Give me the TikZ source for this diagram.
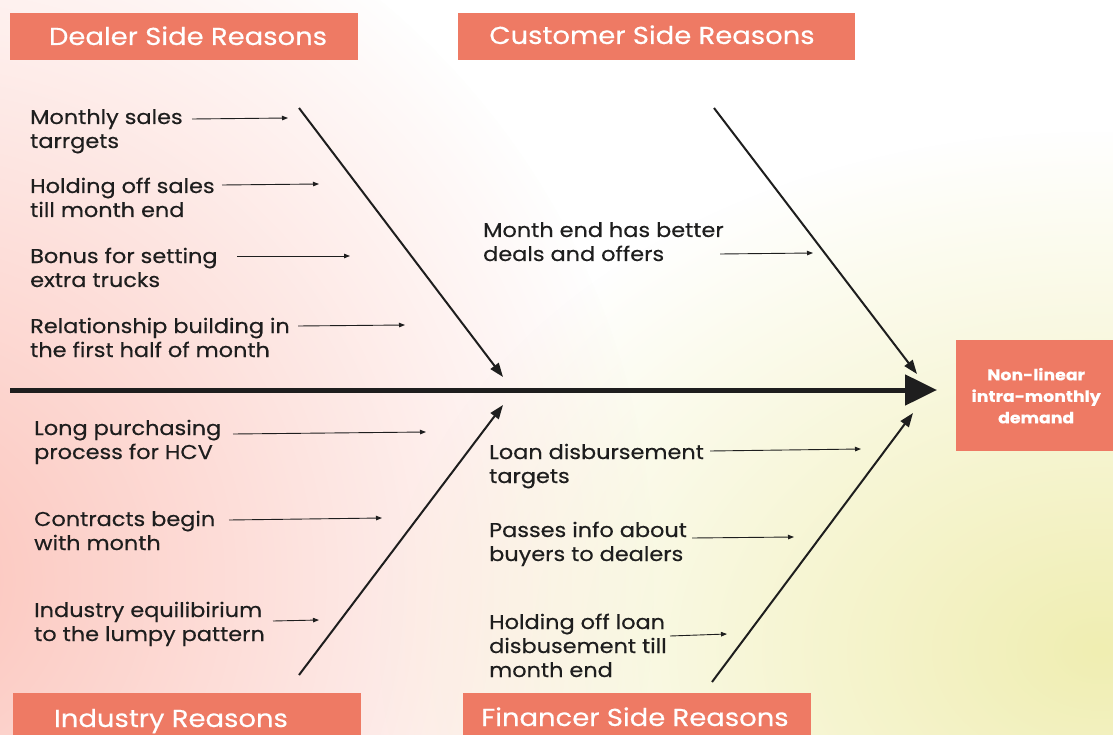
\documentclass[tikz,border=0pt]{standalone}
\usepackage{fontspec}
\setmainfont{Poppins}[FakeStretch=1.12,FakeBold=0.4]
\usetikzlibrary{fadings,arrows.meta}
\definecolor{boxc}{HTML}{EE7A64}
\definecolor{pinkc}{HTML}{FCC4BB}
\definecolor{yelc}{HTML}{F0EEB2}
\definecolor{inkc}{HTML}{1E1E1E}
\tikzfading[name=radfade, inner color=transparent!0, outer color=transparent!100]
\begin{document}
\begin{tikzpicture}[x=1pt,y=-1pt,
  hdrtext/.style={text=white, font=\fontsize{24.5}{30}\selectfont, inner sep=0pt, anchor=base},
  lbl/.style={text=inkc, font=\fontsize{20}{24}\selectfont, align=left, inner sep=0pt, anchor=base west},
  spine/.style={draw=inkc, line width=5pt, -{Triangle[length=32pt,width=30pt]}},
  bone/.style={draw=inkc, line width=2pt, -{Triangle[length=14pt,width=10pt]}},
  twig/.style={draw=inkc, line width=0.9pt, -{Triangle[length=6pt,width=4.5pt]}}]
\useasboundingbox (0,0) rectangle (1113,735);
% background
\begin{scope}
\clip (0,0) rectangle (1113,735);
\fill[white] (0,0) rectangle (1113,735);
\fill[pinkc, path fading=radfade] (-100,580) ellipse [x radius=760, y radius=760];
\fill[yelc, path fading=radfade] (1100,650) ellipse [x radius=720, y radius=520];
\end{scope}
% header boxes
\fill[boxc] (10,13) rectangle (358,60);
\node[hdrtext] (hdealer) at (188,45) {Dealer Side Reasons};
\fill[boxc] (458,13) rectangle (855,60);
\node[hdrtext] (hcust) at (652,44) {Customer Side Reasons};
\fill[boxc] (13,693) rectangle (361,735);
\node[hdrtext] (hind) at (171,727) {Industry Reasons};
\fill[boxc] (463,693) rectangle (811,735);
\node[hdrtext] (hfin) at (635,726) {Financer Side Reasons};
% result
\node[fill=boxc, minimum width=157pt, minimum height=111pt, inner sep=0pt, anchor=north west,
      text=white, font=\bfseries\fontsize{15.5}{21.5}\selectfont, align=center] (res) at (956,340)
      {\hspace*{3pt}Non-linear\\\hspace*{3pt}intra-monthly\\\hspace*{3pt}demand};
% spine
\coordinate (sp0) at (10,390);
\coordinate (sp1) at (937,390);
\draw[spine] (sp0) -- (sp1);
% bones
\coordinate (d0) at (299,108); \coordinate (d1) at (503,377);
\coordinate (c0) at (714,108); \coordinate (c1) at (917,374);
\coordinate (i0) at (299,675); \coordinate (i1) at (503,405);
\coordinate (f0) at (712,682); \coordinate (f1) at (913,413);
\draw[bone] (d0) -- (d1);
\draw[bone] (c0) -- (c1);
\draw[bone] (i0) -- (i1);
\draw[bone] (f0) -- (f1);
% labels (base anchor = baseline of last line)
\node[lbl] (l1) at (30,148) {Monthly sales\\tarrgets};
\node[lbl] (l2) at (30,217) {Holding off sales\\till month end};
\node[lbl] (l3) at (30,287) {Bonus for setting\\extra trucks};
\node[lbl] (l4) at (30,357) {Relationship building in\\the first half of month};
\node[lbl] (l5) at (483,261) {Month end has better\\deals and offers};
\node[lbl] (l6) at (34,459) {Long purchasing\\process for HCV};
\node[lbl] (l7) at (34,550) {Contracts begin\\with month};
\node[lbl] (l8) at (34,641) {Industry equilibirium\\to the lumpy pattern};
\node[lbl] (l9) at (489,483) {Loan disbursement\\targets};
\node[lbl] (l10) at (489,561) {Passes info about\\buyers to dealers};
\node[lbl] (l11) at (489,677) {Holding off loan\\disbusement till\\month end};
% twigs
\coordinate (a1) at (192,119); \coordinate (b1) at (288,118);
\coordinate (a2) at (222,185); \coordinate (b2) at (319,184);
\coordinate (a3) at (237,256); \coordinate (b3) at (350,256);
\coordinate (a4) at (298,326); \coordinate (b4) at (405,325);
\coordinate (a5) at (720,254); \coordinate (b5) at (813,253);
\coordinate (a6) at (233,434); \coordinate (b6) at (426,432);
\coordinate (a7) at (229,520); \coordinate (b7) at (382,518);
\coordinate (a8) at (273,621); \coordinate (b8) at (319,620);
\coordinate (a9) at (710,451); \coordinate (b9) at (861,449);
\coordinate (a10) at (692,538); \coordinate (b10) at (794,537);
\coordinate (a11) at (670,636); \coordinate (b11) at (727,634);
\foreach \k in {1,...,11} {\draw[twig] (a\k) -- (b\k);}
\end{tikzpicture}
\end{document}
